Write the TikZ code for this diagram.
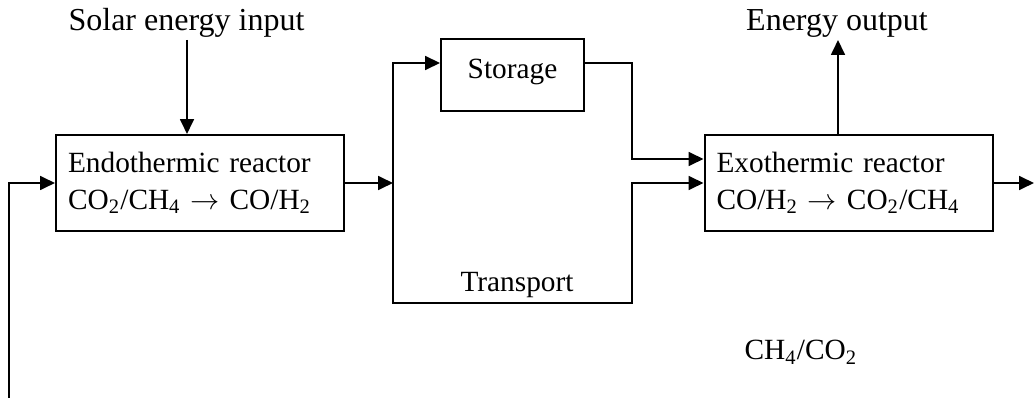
\documentclass[tikz,border=0pt]{standalone}
\usepackage{fontspec}
\setmainfont{Liberation Serif}
\usetikzlibrary{arrows.meta}
\begin{document}
\begin{tikzpicture}[x=0.375pt,y=-0.375pt,
  font=\fontsize{12pt}{13.9pt}\selectfont,
  line width=0.75pt,
  flow/.style={-{Triangle[length=5.6pt,width=5.2pt]}},
  small/.style={font=\fontsize{11pt}{13.9pt}\selectfont},
  reactor/.style={draw,small,minimum width=108pt,minimum height=36pt,text width=99pt,align=left,inner xsep=4.5pt,inner ysep=0pt},
  storebox/.style={draw,small,minimum width=53.6pt,minimum height=27pt,inner sep=0pt,text depth=0.45em},
  lbl/.style={inner sep=0pt,anchor=base}]
\useasboundingbox (0,0) rectangle (1034,398);
\node[reactor] (endo) at (200,183) {Endothermic reactor\\CO\textsubscript{2}/CH\textsubscript{4} $\rightarrow$ CO/H\textsubscript{2}};
\node[reactor] (exo) at (848.5,183) {Exothermic reactor\\CO/H\textsubscript{2} $\rightarrow$ CO\textsubscript{2}/CH\textsubscript{4}};
\node[storebox] (stor) at (512.5,75) {Storage};
\node[lbl] (solar) at (186.5,31) {Solar energy input};
\node[lbl] (eout) at (837,31) {Energy output};
\node[lbl,small] (trans) at (517,292) {Transport};
\node[lbl,small] (ch4) at (801,360) {CH\textsubscript{4}/CO\textsubscript{2}};
\coordinate (feed) at (9,398);
\coordinate (split) at (393,183);
\coordinate (sjoin) at (632,63);
\coordinate (tjoin) at (632,303);
\coordinate (outend) at (1034,183);
\coordinate (solartop) at (187,40);
\coordinate (eouttop) at (838,40);
% feed into endothermic reactor
\draw[flow] (feed) |- (endo.west);
% solar input
\draw[flow] (solartop) -- (solartop |- endo.north);
% endothermic to split
\draw[flow] (endo.east) -- (split);
% split to storage
\draw[flow] (split) |- (split |- sjoin) -- (stor.west |- sjoin);
% storage to exothermic
\draw[flow] (stor.east |- sjoin) -- (sjoin) -- (sjoin |- 0,159) -- (exo.west |- 0,159);
% transport route
\draw[flow] (split) -- (split |- tjoin) -- (tjoin) -- (tjoin |- exo.west) -- (exo.west);
% energy output
\draw[flow] (eouttop |- exo.north) -- (eouttop);
% exothermic output
\draw[flow] (exo.east) -- (outend);
\end{tikzpicture}
\end{document}
